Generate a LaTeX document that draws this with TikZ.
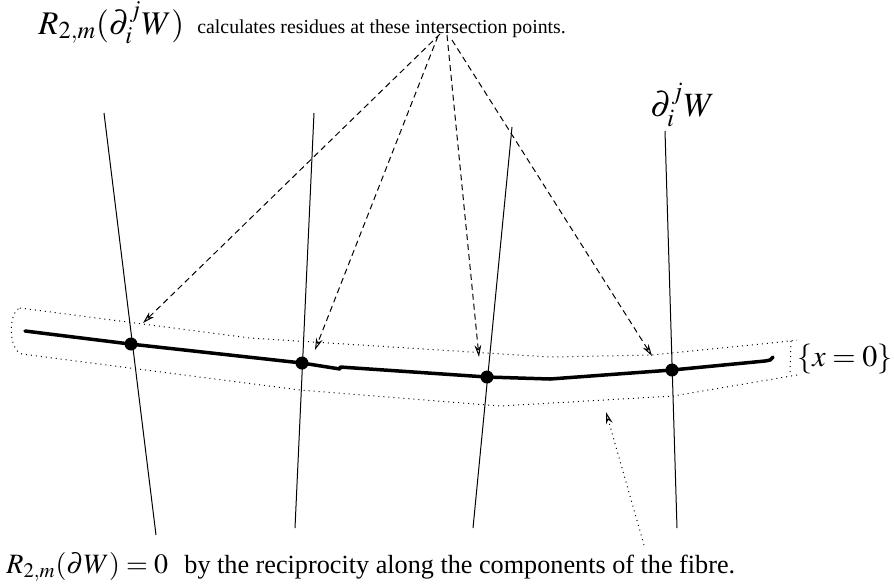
\documentclass[tikz,border=0pt]{standalone}
\usepackage{mathptmx}
\usepackage{fontspec}
\setmainfont{Liberation Serif}
\usetikzlibrary{arrows.meta}
\tikzset{
  fcurve/.style={line width=1.75pt,line cap=round,line join=round},
  fcomp/.style={line width=0.5pt},
  ftube/.style={line width=0.5pt,dash pattern=on 0.5pt off 2pt},
  fptr/.style={line width=0.5pt,dash pattern=on 3pt off 2pt,-{Stealth[open,length=6pt,width=3.4pt]}},
  fptrD/.style={line width=0.5pt,dash pattern=on 0.5pt off 2pt,-{Stealth[open,length=6pt,width=3.4pt]}},
  fdot/.style={circle,fill,inner sep=0pt,minimum size=6.5pt},
  ftxt/.style={inner sep=0pt,anchor=base west},
}
\begin{document}
\begin{tikzpicture}[x=0.5pt,y=-0.5pt]
\useasboundingbox (0,0) rectangle (894,586);
% the components of the fibre
\foreach \n/\xt/\yt/\xb/\yb in {1/104/113/156/535,2/314/113/295/528,3/512/127/473/528,4/665/131/677/528}{
  \coordinate (c\n t) at (\xt,\yt);
  \coordinate (c\n b) at (\xb,\yb);
  \draw[fcomp] (c\n t) -- (c\n b);}
% the fibre {x=0} and its neighbourhood
\draw[fcurve] (25,331) -- (130,344) -- (302,363) -- (340,369);
\draw[fcurve] (340,367) -- (487,377) -- (550,379);
\draw[fcurve] (550,379) -- (672,370) -- (765,361) .. controls (771,360) .. (773,357);
\draw[ftube] (20,308) -- (250,338) -- (550,357) -- (652,355) -- (780,342) -- (797,340)
  (791,341) -- (790,374)
  (797,375) -- (673,396) -- (500,406) -- (300,390) -- (22,354)
  .. controls (8,350) and (8,312) .. (20,308);
% intersection points
\foreach \n/\x/\y in {1/131/344,2/302/363,3/487/377,4/672/370}{
  \node[fdot] (p\n) at (\x,\y) {};}
% labels
\node[ftxt,font=\fontsize{16.5}{18}\selectfont] (rtop) at (38,34) {$R_{2,m}(\partial_i^jW)$};
\node[ftxt,font=\fontsize{9.9}{12}\selectfont] (ttop) at (197,33) {calculates residues at these intersection points.};
\node[ftxt,font=\fontsize{17}{19}\selectfont] (dw) at (650,116) {$\partial_i^jW$};
\node[ftxt,font=\fontsize{15}{17}\selectfont] (xz) at (797,366) {$\{x=0\}$};
\node[ftxt,font=\fontsize{14}{16}\selectfont] (rbot) at (6,573) {$R_{2,m}(\partial W)=0$};
\node[ftxt,font=\fontsize{13.1}{15}\selectfont] (tbot) at (184,573) {by the reciprocity along the components of the fibre.};
% pointers
\foreach \n/\xs/\ys/\xe/\ye in {1/440/34/143/323,2/438/36/315/350,3/447/35/479/357,4/452/40/652/356}{
  \coordinate (s\n) at (\xs,\ys);
  \coordinate (e\n) at (\xe,\ye);
  \draw[fptr] (s\n) -- (e\n);}
\coordinate (s5) at (644,545);
\coordinate (e5) at (606,412);
\draw[fptrD] (s5) -- (e5);
\end{tikzpicture}
\end{document}
